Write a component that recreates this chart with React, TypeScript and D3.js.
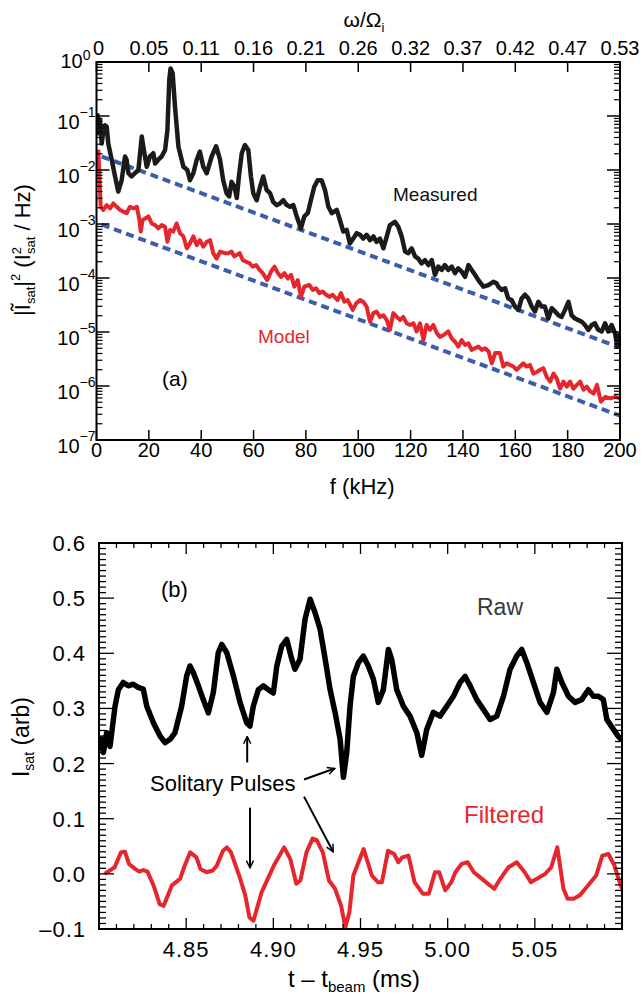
import * as d3 from "d3";

// ---------- panel (a): spectrum ----------
const freqTicks = [0, 20, 40, 60, 80, 100, 120, 140, 160, 180, 200];
const omegaLabels = ["0", "0.05", "0.11", "0.16", "0.21", "0.26", "0.32", "0.37", "0.42", "0.47", "0.53"];
const decades = [0, -1, -2, -3, -4, -5, -6, -7];

// measured spectrum, f in kHz, value given as log10(|I_sat|^2)
const measuredF = [
  0.3, 0.7, 1.3, 2.0, 2.6, 3.2, 3.9, 4.5, 5.8, 7.1, 8.3, 9.6, 10.9, 11.5, 12.2, 13.4, 14.7, 16.0, 17.3, 18.1,
  19.2, 20.4, 21.7, 22.4, 23.6, 24.9, 26.2, 27.1, 27.8, 28.3, 29.1, 30.0, 31.3, 33.2, 34.7, 35.7, 37.0, 38.3,
  39.5, 40.8, 42.1, 44.0, 45.7, 47.2, 48.4, 49.7, 50.7, 51.6, 52.7, 53.6, 54.4, 55.5, 56.7, 58.0, 59.0, 59.9,
  61.2, 62.5, 63.7, 65.0, 66.3, 67.5, 68.8, 70.1, 71.4, 72.7, 73.9, 75.2, 76.5, 78.1, 79.4, 80.7, 81.9, 83.2,
  84.5, 86.0, 87.3, 88.6, 89.9, 91.8, 93.0, 94.3, 95.6, 96.8, 98.1, 99.4, 100.7, 101.9, 103.2, 104.5, 105.8,
  107.0, 108.3, 109.6, 110.9, 112.1, 114.0, 115.3, 116.6, 117.9, 119.1, 120.4, 121.7, 122.9, 124.2, 125.5,
  126.8, 128.1, 129.3, 130.6, 131.9, 133.1, 134.4, 135.7, 137.0, 138.2, 139.5, 140.8, 142.1, 143.3, 144.6,
  145.9, 147.8, 149.7, 151.6, 152.9, 153.5, 154.8, 156.1, 157.3, 158.6, 159.9, 161.2, 162.4, 163.7, 165.0,
  166.3, 167.5, 168.8, 170.1, 171.3, 172.6, 173.9, 175.2, 176.5, 177.7, 179.0, 180.3, 181.5, 182.8, 184.1,
  185.4, 186.6, 187.9, 189.2, 190.4, 191.7, 193.0, 194.3, 195.5, 196.8, 198.1, 199.0, 200.0
];
const measuredLog = [
  -0.95, -1.32, -1.07, -1.51, -1.29, -1.17, -1.2, -1.51, -1.81, -2.12, -2.4, -2.19, -1.75, -1.81, -2.06, -2.12,
  -2.06, -2.0, -1.38, -1.63, -1.94, -1.75, -1.69, -1.88, -1.81, -1.75, -1.63, -1.26, -0.33, -0.12, -0.21, -0.83,
  -1.57, -1.94, -2.0, -2.19, -2.06, -1.81, -1.66, -1.94, -2.06, -1.75, -1.56, -1.81, -2.19, -2.43, -2.49, -2.22,
  -2.31, -2.52, -2.12, -1.69, -1.54, -1.63, -2.12, -2.43, -2.56, -2.31, -2.12, -2.37, -2.43, -2.59, -2.65, -2.62,
  -2.56, -2.65, -2.68, -2.65, -2.86, -3.08, -2.86, -2.8, -2.56, -2.31, -2.19, -2.19, -2.37, -2.68, -2.8, -2.74,
  -2.93, -3.14, -3.11, -3.36, -3.27, -3.17, -3.2, -3.27, -3.2, -3.3, -3.23, -3.33, -3.27, -3.45, -3.23, -3.02,
  -2.96, -3.05, -3.23, -3.51, -3.54, -3.45, -3.6, -3.64, -3.73, -3.67, -3.76, -3.67, -3.94, -3.79, -3.85, -3.76,
  -3.85, -3.79, -3.91, -3.82, -3.88, -3.98, -3.76, -3.85, -3.94, -4.04, -4.16, -4.13, -4.07, -4.1, -4.16, -4.22,
  -4.19, -4.38, -4.41, -4.53, -4.59, -4.38, -4.31, -4.38, -4.53, -4.62, -4.44, -4.53, -4.53, -4.75, -4.56,
  -4.62, -4.69, -4.72, -4.59, -4.44, -4.69, -4.75, -4.78, -4.81, -4.87, -4.96, -4.87, -4.84, -4.96, -4.99,
  -4.84, -4.99, -4.87, -5.02, -5.27, -5.02
];

// model spectrum, log10 values
const modelF = [
  0.7, 1.2, 1.6, 2.6, 3.9, 5.2, 6.4, 7.7, 9.0, 10.2, 11.5, 12.8, 14.1, 15.4, 16.4, 16.9, 17.6, 18.5, 19.8, 21.1,
  22.4, 23.6, 24.9, 26.2, 27.1, 28.1, 29.3, 30.6, 31.9, 33.2, 34.5, 35.7, 37.0, 38.3, 39.5, 40.8, 42.1, 43.4,
  44.6, 45.9, 47.2, 49.1, 50.4, 51.6, 52.7, 54.7, 55.9, 57.2, 58.5, 59.7, 61.0, 62.3, 63.5, 65.2, 66.7, 68.0,
  69.3, 70.5, 71.8, 73.1, 74.3, 75.6, 76.9, 78.1, 79.4, 81.3, 82.6, 83.9, 85.1, 86.4, 87.7, 89.0, 90.2, 92.1,
  93.4, 94.7, 96.0, 97.9, 99.2, 100.7, 101.9, 103.2, 104.5, 105.8, 107.0, 108.3, 109.6, 110.9, 112.1, 113.4,
  114.7, 116.0, 117.2, 118.5, 119.8, 121.1, 122.3, 123.6, 124.9, 126.1, 127.4, 128.7, 130.0, 131.2, 132.5,
  134.4, 135.7, 137.0, 138.2, 139.5, 140.8, 142.1, 143.3, 144.6, 145.9, 147.2, 148.5, 149.8, 151.0, 152.3,
  154.1, 155.4, 156.7, 158.0, 159.3, 160.5, 161.8, 163.1, 164.3, 165.6, 166.9, 168.2, 169.5, 170.7, 172.0,
  173.3, 174.6, 175.8, 177.1, 178.4, 179.7, 180.9, 182.2, 183.5, 184.8, 186.1, 187.3, 188.6, 189.9, 191.2,
  192.7, 194.4, 196.3, 198.2, 200.0
];
const modelLog = [
  -1.62, -2.2, -2.68, -2.74, -2.65, -2.71, -2.62, -2.68, -2.74, -2.77, -2.8, -2.68, -2.71, -2.68, -2.93, -3.14,
  -2.93, -2.9, -2.86, -2.99, -3.02, -3.08, -3.02, -3.05, -3.33, -3.11, -3.14, -2.99, -3.17, -3.23, -3.45, -3.36,
  -3.23, -3.39, -3.3, -3.42, -3.33, -3.3, -3.54, -3.64, -3.51, -3.54, -3.54, -3.51, -3.6, -3.54, -3.67, -3.7,
  -3.73, -3.79, -3.76, -3.85, -3.91, -4.04, -3.88, -3.79, -3.91, -3.98, -3.91, -4.01, -3.94, -4.16, -4.04, -4.35,
  -4.16, -4.13, -4.22, -4.19, -4.28, -4.25, -4.31, -4.35, -4.31, -4.41, -4.28, -4.44, -4.41, -4.59, -4.47, -4.41,
  -4.44, -4.53, -4.81, -4.65, -4.62, -4.72, -4.69, -4.78, -4.96, -4.65, -4.72, -4.78, -4.72, -4.84, -4.87, -4.84,
  -4.99, -4.84, -5.15, -4.87, -4.96, -4.87, -5.02, -5.09, -5.06, -4.99, -5.12, -5.18, -5.27, -5.15, -5.24, -5.21,
  -5.33, -5.3, -5.27, -5.33, -5.3, -5.36, -5.58, -5.39, -5.39, -5.64, -5.58, -5.61, -5.64, -5.7, -5.64, -5.58,
  -5.64, -5.61, -5.77, -5.74, -5.7, -5.67, -5.83, -5.92, -5.77, -5.86, -6.05, -5.92, -6.01, -5.92, -6.05, -5.98,
  -5.92, -6.07, -6.01, -6.1, -6.14, -5.98, -6.29, -6.2, -6.23, -6.2, -6.23
];

// exponential fits (straight on log axis)
const fitF = [2, 200];
const upperFitLog = [-1.75, -5.29];
const lowerFitLog = [-3.01, -6.55];

// ---------- panel (b): time series ----------
const timeLabels = [4.85, 4.9, 4.95, 5.0, 5.05];
const isatLabels = [0.6, 0.5, 0.4, 0.3, 0.2, 0.1, 0.0, -0.1];

const rawT = [
  4.8006, 4.8025, 4.8044, 4.8063, 4.8092, 4.8111, 4.8139, 4.8168, 4.8197, 4.8225, 4.8254, 4.8274, 4.8312, 4.835,
  4.8379, 4.8408, 4.8436, 4.8474, 4.8503, 4.8522, 4.8541, 4.857, 4.8598, 4.8627, 4.8656, 4.8684, 4.8704, 4.8733,
  4.8771, 4.8809, 4.8847, 4.8866, 4.8885, 4.8914, 4.8943, 4.8971, 4.9, 4.902, 4.9048, 4.9077, 4.9106, 4.9124,
  4.9153, 4.9182, 4.9211, 4.9239, 4.9268, 4.9297, 4.9325, 4.9354, 4.9383, 4.9402, 4.9421, 4.944, 4.9459, 4.9488,
  4.9516, 4.9545, 4.9574, 4.9602, 4.9631, 4.966, 4.9679, 4.9708, 4.9746, 4.9784, 4.9823, 4.9851, 4.988, 4.9918,
  4.9956, 4.9995, 5.0033, 5.0071, 5.01, 5.0129, 5.0167, 5.0205, 5.0243, 5.0282, 5.032, 5.0358, 5.0396, 5.0425,
  5.0454, 5.0492, 5.053, 5.0569, 5.0607, 5.0626, 5.0655, 5.0693, 5.0731, 5.0769, 5.0807, 5.0836, 5.0865, 5.0893,
  5.0913, 5.0951, 5.0979, 5.0999
];
const rawV = [
  0.249, 0.22, 0.256, 0.231, 0.304, 0.334, 0.347, 0.341, 0.344, 0.338, 0.335, 0.304, 0.274, 0.25, 0.238, 0.244,
  0.256, 0.304, 0.359, 0.377, 0.365, 0.341, 0.316, 0.292, 0.329, 0.401, 0.416, 0.401, 0.359, 0.311, 0.274, 0.268,
  0.304, 0.334, 0.341, 0.334, 0.328, 0.377, 0.413, 0.425, 0.389, 0.371, 0.389, 0.462, 0.498, 0.474, 0.444, 0.39,
  0.335, 0.293, 0.244, 0.175, 0.22, 0.304, 0.358, 0.383, 0.395, 0.377, 0.353, 0.311, 0.334, 0.407, 0.389, 0.334,
  0.304, 0.286, 0.256, 0.215, 0.262, 0.293, 0.286, 0.304, 0.322, 0.347, 0.358, 0.341, 0.316, 0.298, 0.28, 0.286,
  0.322, 0.371, 0.395, 0.407, 0.383, 0.347, 0.311, 0.293, 0.329, 0.371, 0.347, 0.322, 0.311, 0.316, 0.334, 0.322,
  0.322, 0.316, 0.28, 0.262, 0.249, 0.243
];

const filtT = [
  4.8032, 4.809, 4.8126, 4.8149, 4.8172, 4.8207, 4.8231, 4.8254, 4.8278, 4.8313, 4.8348, 4.8371, 4.8418, 4.8442,
  4.8465, 4.8488, 4.8523, 4.8559, 4.8582, 4.8617, 4.8652, 4.8676, 4.8711, 4.8734, 4.8757, 4.8804, 4.8839, 4.8863,
  4.8886, 4.8933, 4.9003, 4.9062, 4.9097, 4.9132, 4.9155, 4.919, 4.9225, 4.9249, 4.9284, 4.9319, 4.9354, 4.9389,
  4.9413, 4.9436, 4.9459, 4.9518, 4.9565, 4.96, 4.9623, 4.9658, 4.9693, 4.9717, 4.974, 4.9775, 4.981, 4.9857,
  4.9892, 4.9927, 4.9951, 4.9986, 5.0021, 5.0044, 5.008, 5.0115, 5.015, 5.0197, 5.0243, 5.0267, 5.0302, 5.0349,
  5.0396, 5.0442, 5.0477, 5.0512, 5.0559, 5.0594, 5.0629, 5.0664, 5.0688, 5.0723, 5.0758, 5.0805, 5.0852, 5.0887,
  5.0922, 5.0957, 5.098, 5.1
];
const filtV = [
  0.0, 0.012, 0.039, 0.04, 0.018, 0.009, 0.004, 0.007, 0.004, -0.021, -0.055, -0.058, -0.021, -0.015, -0.009,
  0.012, 0.039, 0.03, 0.009, 0.003, 0.006, 0.015, 0.042, 0.048, 0.039, -0.003, -0.039, -0.079, -0.085, -0.033,
  0.015, 0.048, 0.027, -0.018, -0.012, 0.039, 0.064, 0.061, 0.039, -0.012, -0.027, -0.058, -0.097, -0.07, -0.003,
  0.045, -0.003, -0.015, -0.015, 0.042, 0.036, 0.021, 0.03, 0.033, -0.015, -0.036, -0.036, 0.003, 0.003, -0.03,
  -0.015, 0.003, 0.018, 0.021, 0.003, -0.009, -0.021, -0.027, -0.009, 0.012, 0.021, 0.003, -0.015, -0.009, 0.0,
  0.012, 0.048, -0.027, -0.045, -0.045, -0.039, -0.021, -0.003, 0.033, 0.036, 0.015, -0.009, -0.027
];

// arrows: [tStart, vStart, tEnd, vEnd]
const pulseArrows = [
  [4.885, 0.202, 4.885, 0.249],
  [4.9176, 0.171, 4.9352, 0.191],
  [4.8866, 0.12, 4.8866, 0.011],
  [4.9176, 0.14, 4.9343, 0.04]
];

const FONT = "'Liberation Sans', Arial, Helvetica, sans-serif";
const BLACK = "#1c1b1b";
const RED = "#e5262c";
const BLUE = "#3a5eab";

const A = { left: 96.5, right: 620, top: 62, bottom: 440 };
const B = { left: 99, right: 622, top: 543, bottom: 929 };

function PanelA() {
  const x = d3.scaleLinear().domain([0, 200]).range([A.left, A.right]);
  const y = d3.scaleLog().domain([1e-7, 1]).range([A.bottom, A.top]);
  const line = d3
    .line<[number, number]>()
    .x((d) => x(d[0]))
    .y((d) => y(Math.pow(10, d[1])));

  const measured = measuredF.map((f, i) => [f, measuredLog[i]] as [number, number]);
  const model = modelF.map((f, i) => [f, modelLog[i]] as [number, number]);
  const upper = fitF.map((f, i) => [f, upperFitLog[i]] as [number, number]);
  const lower = fitF.map((f, i) => [f, lowerFitLog[i]] as [number, number]);

  // minor ticks 2..9 in each decade
  const minor: number[] = [];
  decades.slice(1).forEach((e) => {
    for (let m = 2; m <= 9; m++) minor.push(m * Math.pow(10, e));
  });

  return (
    <g>
      <defs>
        <clipPath id="clipA">
          <rect x={A.left} y={A.top} width={A.right - A.left} height={A.bottom - A.top} />
        </clipPath>
      </defs>

      <g clipPath="url(#clipA)" fill="none" strokeLinejoin="round" strokeLinecap="butt">
        <path d={line(upper) || ""} stroke={BLUE} strokeWidth={4} strokeDasharray="8 5" />
        <path d={line(lower) || ""} stroke={BLUE} strokeWidth={4} strokeDasharray="8 5" />
        <path d={line(model) || ""} stroke={RED} strokeWidth={4} />
        <path d={line(measured) || ""} stroke={BLACK} strokeWidth={4.5} />
      </g>

      {/* frame */}
      <rect x={A.left} y={A.top} width={A.right - A.left} height={A.bottom - A.top} fill="none" stroke="#000" strokeWidth={2} />

      {/* x ticks, bottom and top */}
      {freqTicks.map((f, i) => (
        <g key={f}>
          <line x1={x(f)} x2={x(f)} y1={A.bottom} y2={A.bottom - 10} stroke="#000" strokeWidth={1.5} />
          <line x1={x(f)} x2={x(f)} y1={A.top} y2={A.top + 10} stroke="#000" strokeWidth={1.5} />
          <text x={x(f)} y={457} textAnchor="middle" fontSize={20} fontFamily={FONT}>
            {f}
          </text>
          <text x={x(f) + (i === 0 ? 2 : 0)} y={55} textAnchor="middle" fontSize={20} fontFamily={FONT}>
            {omegaLabels[i]}
          </text>
        </g>
      ))}

      {/* y ticks */}
      {decades.map((e) => (
        <g key={e}>
          <line x1={A.left} x2={A.left + 13} y1={y(Math.pow(10, e))} y2={y(Math.pow(10, e))} stroke="#000" strokeWidth={1.5} />
          <line x1={A.right} x2={A.right - 13} y1={y(Math.pow(10, e))} y2={y(Math.pow(10, e))} stroke="#000" strokeWidth={1.5} />
          <text
            x={A.left - (e === 0 ? 6 : 1)}
            y={y(Math.pow(10, e)) + (e === 0 ? 6 : 13)}
            textAnchor="end"
            fontSize={20}
            fontFamily={FONT}
          >
            <tspan>10</tspan>
            <tspan fontSize={14} dy={e === 0 ? -8 : -12}>
              {e === 0 ? "0" : "\u2212" + Math.abs(e)}
            </tspan>
          </text>
        </g>
      ))}
      {minor.map((v, i) => (
        <g key={i}>
          <line x1={A.left} x2={A.left + 6} y1={y(v)} y2={y(v)} stroke="#000" strokeWidth={1.2} />
          <line x1={A.right} x2={A.right - 6} y1={y(v)} y2={y(v)} stroke="#000" strokeWidth={1.2} />
        </g>
      ))}

      {/* axis titles */}
      <text x={(A.left + A.right) / 2 + 4} y={494} textAnchor="middle" fontSize={22} fontFamily={FONT}>
        f (kHz)
      </text>
      <text x={364} y={27} textAnchor="middle" fontSize={21} fontFamily={FONT}>
        ω/Ω<tspan fontSize={13} dy={5}>i</tspan>
      </text>
      <text transform="translate(30,250) rotate(-90)" textAnchor="middle" fontSize={22} fontFamily={FONT}>
        <tspan>|Ĩ</tspan>
        <tspan fontSize={13} dy={5}>sat</tspan>
        <tspan dy={-5}>|</tspan>
        <tspan fontSize={13} dy={-10}>2</tspan>
        <tspan dy={10}>{"  (I"}</tspan>
        <tspan fontSize={13} dy={-9}>2</tspan>
        <tspan fontSize={13} dx={-7} dy={14}>sat</tspan>
        <tspan dy={-5}>{" / Hz)"}</tspan>
      </text>

      {/* annotations */}
      <text x={393} y={201} fontSize={19} fontFamily={FONT} fill="#111">
        Measured
      </text>
      <text x={258} y={343} fontSize={19} fontFamily={FONT} fill={RED}>
        Model
      </text>
      <text x={162} y={386} fontSize={21} fontFamily={FONT}>
        (a)
      </text>
    </g>
  );
}

function PanelB() {
  const x = d3.scaleLinear().domain([4.8, 5.1]).range([B.left, B.right]);
  const y = d3.scaleLinear().domain([-0.1, 0.6]).range([B.bottom, B.top]);
  const line = d3
    .line<[number, number]>()
    .x((d) => x(d[0]))
    .y((d) => y(d[1]));

  const raw = rawT.map((t, i) => [t, rawV[i]] as [number, number]);
  const filt = filtT.map((t, i) => [t, filtV[i]] as [number, number]);

  const xTicks = d3.range(0, 31).map((i) => ({ t: 4.8 + i * 0.01, major: i % 5 === 0 }));
  const yTicks = d3.range(0, 71).map((i) => ({ v: -0.1 + i * 0.01, major: i % 10 === 0 }));

  return (
    <g>
      <defs>
        <clipPath id="clipB">
          <rect x={B.left} y={B.top} width={B.right - B.left} height={B.bottom - B.top} />
        </clipPath>
        <marker id="head" viewBox="0 0 10 10" refX={9} refY={5} markerWidth={9} markerHeight={9} orient="auto" markerUnits="userSpaceOnUse">
          <path d="M1,1 L9,5 L1,9" fill="none" stroke="#000" strokeWidth={1.6} />
        </marker>
      </defs>

      <g clipPath="url(#clipB)" fill="none" strokeLinejoin="round">
        <path d={line(raw) || ""} stroke="#000" strokeWidth={5.5} />
        <path d={line(filt) || ""} stroke={RED} strokeWidth={4} />
      </g>

      <rect x={B.left} y={B.top} width={B.right - B.left} height={B.bottom - B.top} fill="none" stroke="#000" strokeWidth={2} />

      {xTicks.map((d, i) => (
        <g key={i}>
          <line x1={x(d.t)} x2={x(d.t)} y1={B.bottom} y2={B.bottom - (d.major ? 11 : 5)} stroke="#000" strokeWidth={1.3} />
          <line x1={x(d.t)} x2={x(d.t)} y1={B.top} y2={B.top + (d.major ? 11 : 5)} stroke="#000" strokeWidth={1.3} />
        </g>
      ))}
      {yTicks.map((d, i) => (
        <g key={i}>
          <line x1={B.left} x2={B.left + (d.major ? 15 : 7)} y1={y(d.v)} y2={y(d.v)} stroke="#000" strokeWidth={1.3} />
          <line x1={B.right} x2={B.right - (d.major ? 15 : 7)} y1={y(d.v)} y2={y(d.v)} stroke="#000" strokeWidth={1.3} />
        </g>
      ))}

      {timeLabels.map((t) => (
        <text key={t} x={x(t)} y={957} textAnchor="middle" fontSize={22} letterSpacing={1} fontFamily={FONT}>
          {t.toFixed(2)}
        </text>
      ))}
      {isatLabels.map((v) => (
        <text key={v} x={86} y={y(v) + 8} textAnchor="end" fontSize={22} letterSpacing={1} fontFamily={FONT}>
          {v < 0 ? "\u2013" + Math.abs(v).toFixed(1) : v.toFixed(1)}
        </text>
      ))}

      {/* titles */}
      <text x={354} y={987} textAnchor="middle" fontSize={24} fontFamily={FONT}>
        t – t<tspan fontSize={15} dy={5}>beam</tspan>
        <tspan dy={-5}> (ms)</tspan>
      </text>
      <text transform="translate(29,737) rotate(-90)" textAnchor="middle" fontSize={23} fontFamily={FONT}>
        I<tspan fontSize={14} dy={5}>sat</tspan>
        <tspan dy={-5}> (arb)</tspan>
      </text>

      {/* annotations */}
      <text x={161} y={597} fontSize={22} fontFamily={FONT}>
        (b)
      </text>
      <text x={477} y={615} fontSize={23} fontFamily={FONT} fill="#3a3a3a">
        Raw
      </text>
      <text x={464} y={823} fontSize={24} fontFamily={FONT} fill={RED}>
        Filtered
      </text>
      <text x={150} y={791} fontSize={22} fontFamily={FONT}>
        Solitary Pulses
      </text>
      {pulseArrows.map((a, i) => (
        <line
          key={i}
          x1={x(a[0])}
          y1={y(a[1])}
          x2={x(a[2])}
          y2={y(a[3])}
          stroke="#000"
          strokeWidth={2}
          markerEnd="url(#head)"
        />
      ))}
    </g>
  );
}

export default function App() {
  return (
    <div style={{ position: "absolute", left: 0, top: 0, width: 644, height: 1000, background: "#fff" }}>
      <svg width={644} height={1000} viewBox="0 0 644 1000" style={{ display: "block" }}>
        <rect width={644} height={1000} fill="#fff" />
        <PanelA />
        <PanelB />
      </svg>
    </div>
  );
}
